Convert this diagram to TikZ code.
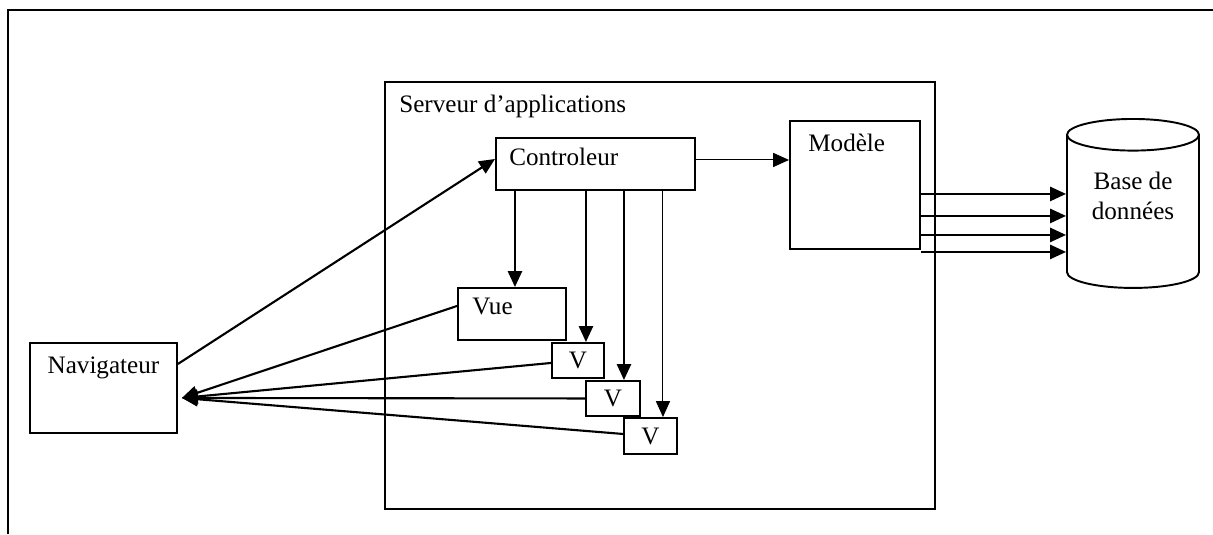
\documentclass[tikz,border=0pt]{standalone}
\usepackage{fontspec}
\setmainfont{Liberation Serif}
\usetikzlibrary{arrows.meta, shapes.geometric}

\begin{document}
\begin{tikzpicture}[x=0.02cm,y=-0.02cm,>={Triangle[length=9pt,width=8pt]},
  font=\fontsize{14.3}{17}\selectfont,
  box node/.style={rectangle,draw,line width=1.1pt,anchor=north west,inner sep=0pt},
  tag node/.style={anchor=north west,inner sep=0pt},
  main line/.style={->,line width=1.2pt},
  fine line/.style={->,line width=0.6pt}]

  \useasboundingbox (0,0) rectangle (1213,534);
  \draw[line width=1.1pt] (8,534) -- (8,10) -- (1213,10);

  \node[box node,minimum width=11cm,minimum height=8.54cm,
    label={[tag node,xshift=0.3cm,yshift=-0.28cm]north west:Serveur d’applications}] (srv) at (384,81) {};
  \node[box node,minimum width=3.98cm,minimum height=1.04cm,
    label={[tag node,xshift=0.28cm,yshift=-0.22cm]north west:Controleur}] (ctrl) at (495,137) {};
  \node[box node,minimum width=2.6cm,minimum height=2.56cm,
    label={[tag node,xshift=0.38cm,yshift=-0.28cm]north west:Modèle}] (mod) at (789,120) {};
  \node[box node,minimum width=2.16cm,minimum height=1.04cm,
    label={[tag node,xshift=0.3cm,yshift=-0.22cm]north west:Vue}] (vue) at (457,287) {};
  \node[box node,minimum width=1.04cm,minimum height=0.7cm] (v1) at (551,342) {V};
  \node[box node,minimum width=1.08cm,minimum height=0.7cm] (v2) at (585,380) {V};
  \node[box node,minimum width=1.06cm,minimum height=0.72cm] (v3) at (623,417) {V};
  \node[box node,minimum width=2.94cm,minimum height=1.8cm,
    label={[anchor=north,inner sep=0pt,yshift=-0.3cm]north:Navigateur}] (nav) at (29,342) {};
  \node[cylinder,draw,line width=1.1pt,shape border rotate=90,aspect=2.7,anchor=north,
    minimum width=2.64cm,minimum height=3.38cm,
    label={[anchor=north,inner sep=0pt,align=center,yshift=-1.08cm]north:Base de\\données}] (db) at (1133,118) {};

  \coordinate (navin) at ([xshift=0.08cm,yshift=-0.2cm]nav.east);

  \draw[main line] ([yshift=0.48cm]nav.east) -- ([yshift=0.1cm]ctrl.west);
  \draw[fine line] ([yshift=0.08cm]ctrl.east) -- ([yshift=0.08cm]ctrl.east -| mod.west);

  \draw[main line] ([xshift=0.06cm]vue.north |- ctrl.south) -- ([xshift=0.06cm]vue.north);
  \draw[main line] ([xshift=0.16cm]v1.north |- ctrl.south) -- ([xshift=0.16cm]v1.north);
  \draw[main line] ([xshift=0.22cm]v2.north |- ctrl.south) -- ([xshift=0.22cm]v2.north);
  \draw[fine line] ([xshift=0.25cm]v3.north |- ctrl.south) -- ([xshift=0.25cm]v3.north);

  \draw[main line] ([yshift=0.16cm]vue.west) -- (navin);
  \draw[main line] ([yshift=-0.05cm]v1.west) -- (navin);
  \draw[main line] (v2.west) -- (navin);
  \draw[main line] ([yshift=0.04cm]v3.west) -- (navin);

  \foreach \dy in {0.18,0.62,1.0,1.34}
    \draw[main line] ([yshift=-\dy cm]mod.east) -- ([yshift=-\dy cm]mod.east -| db.west);
\end{tikzpicture}
\end{document}
